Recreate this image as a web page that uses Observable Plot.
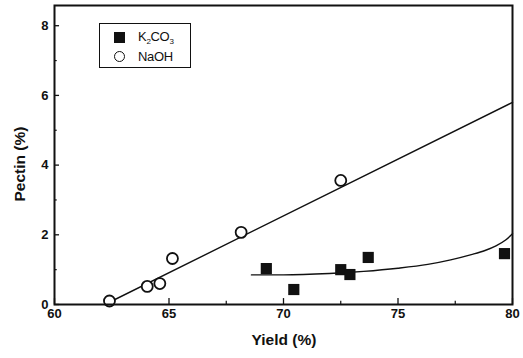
<!DOCTYPE html>
<html>
<head>
<meta charset="utf-8">
<script src="https://cdn.jsdelivr.net/npm/d3@7"></script>
<script src="https://cdn.jsdelivr.net/npm/@observablehq/plot@0.6"></script>
<style>
  html, body { margin: 0; padding: 0; background: #fff; }
  #wrap { position: relative; width: 523px; height: 358px; font-family: "Liberation Sans", Arial, sans-serif; }
  #legend { position: absolute; left: 99px; top: 23px; width: 92px; height: 45px; border: 1.5px solid #111; box-sizing: border-box; font-size: 13px; font-weight: normal; color: #111; letter-spacing: -0.3px; }
  .row { position: absolute; left: 0; height: 20px; display: flex; align-items: center; }
  .sq { width: 11px; height: 11px; background: #111; margin-left: 14px; margin-right: 13px; }
  .ci { width: 9px; height: 9px; border: 1.8px solid #111; border-radius: 50%; margin-left: 14px; margin-right: 13px; box-sizing: content-box; }
  sub { font-size: 8px; vertical-align: -3px; }
  .title { position: absolute; font-size: 15.5px; font-weight: bold; color: #111; white-space: nowrap; line-height: 1; }
  #xt { left: 284px; top: 340px; transform: translate(-50%, -50%); }
  #yt { left: 20px; top: 164px; transform: translate(-50%, -50%) rotate(-90deg); }
</style>
</head>
<body>
<div id="wrap"></div>
<script>
// NaOH (open circles)
const naohYield = [62.4, 64.05, 64.6, 65.15, 68.15, 72.5];
const naohPectin = [0.1, 0.52, 0.6, 1.32, 2.07, 3.56];
// NaOH linear fit endpoints
const naohFitX = [62.2, 80];
const naohFitY = [0.0, 5.8];
// K2CO3 (filled squares)
const kYield = [69.25, 70.45, 72.5, 72.9, 73.7, 79.65];
const kPectin = [1.03, 0.43, 1.0, 0.86, 1.35, 1.46];
// K2CO3 fit curve
const kFitX = [68.6, 70, 72, 73.5, 75, 76.3, 77.3, 78.2, 78.8, 79.3, 79.7, 80];
const kFitY = [0.85, 0.85, 0.89, 0.95, 1.04, 1.15, 1.28, 1.43, 1.55, 1.69, 1.85, 2.03];
// ticks
const xMajor = [60, 65, 70, 75, 80];
const xMinor = [62.5, 67.5, 72.5, 77.5];
const yMajor = [0, 2, 4, 6, 8];
const yMinor = [1, 3, 5, 7];
const xTitle = "Yield (%)";
const yTitle = "Pectin (%)";

const naoh = naohYield.map((x, i) => ({x, y: naohPectin[i]}));
const k2 = kYield.map((x, i) => ({x, y: kPectin[i]}));
const naohFit = naohFitX.map((x, i) => ({x, y: naohFitY[i]}));
const kFit = kFitX.map((x, i) => ({x, y: kFitY[i]}));

const chart = Plot.plot({
  width: 523,
  height: 358,
  marginLeft: 54,
  marginRight: 11,
  marginTop: 5,
  marginBottom: 54,
  style: {fontFamily: "Liberation Sans, Arial, sans-serif", fontWeight: "bold", fontSize: "13px", color: "#111", background: "#fff"},
  x: {domain: [60, 80]},
  y: {domain: [0, 8.58]},
  marks: [
    Plot.axisX(xMajor, {tickSize: 0, tickPadding: 4, label: null, fontSize: 13, fontWeight: "bold"}),
    Plot.axisY(yMajor, {tickSize: 0, tickPadding: 6, label: null, fontSize: 13, fontWeight: "bold"}),
    Plot.ruleX(xMajor, {x: d => d, y1: 0, y2: 0.17, stroke: "#111", strokeWidth: 1.3}),
    Plot.ruleX(xMinor, {x: d => d, y1: 0, y2: 0.09, stroke: "#111", strokeWidth: 1.2}),
    Plot.ruleY(yMajor, {y: d => d, x1: 60, x2: 60.22, stroke: "#111", strokeWidth: 1.3}),
    Plot.ruleY(yMinor, {y: d => d, x1: 60, x2: 60.12, stroke: "#111", strokeWidth: 1.2}),
    Plot.line(naohFit, {x: "x", y: "y", stroke: "#111", strokeWidth: 1.4}),
    Plot.line(kFit, {x: "x", y: "y", stroke: "#111", strokeWidth: 1.4, curve: "monotone-x"}),
    Plot.dot(naoh, {x: "x", y: "y", r: 5.5, stroke: "#111", strokeWidth: 1.8, fill: "white"}),
    Plot.dot(k2, {x: "x", y: "y", symbol: "square", r: 6.3, fill: "#111", stroke: "none"}),
    Plot.frame({stroke: "#111", strokeWidth: 2})
  ]
});
const wrap = document.getElementById("wrap");
wrap.appendChild(chart);
const legend = document.createElement("div");
legend.id = "legend";
legend.innerHTML = '<div class="row" style="top:3px"><div class="sq"></div><span>K<sub>2</sub>CO<sub>3</sub></span></div>' +
  '<div class="row" style="top:22px"><div class="ci"></div><span>NaOH</span></div>';
wrap.appendChild(legend);
const xt = document.createElement("div");
xt.className = "title"; xt.id = "xt"; xt.textContent = xTitle;
wrap.appendChild(xt);
const yt = document.createElement("div");
yt.className = "title"; yt.id = "yt"; yt.textContent = yTitle;
wrap.appendChild(yt);
</script>
</body>
</html>
